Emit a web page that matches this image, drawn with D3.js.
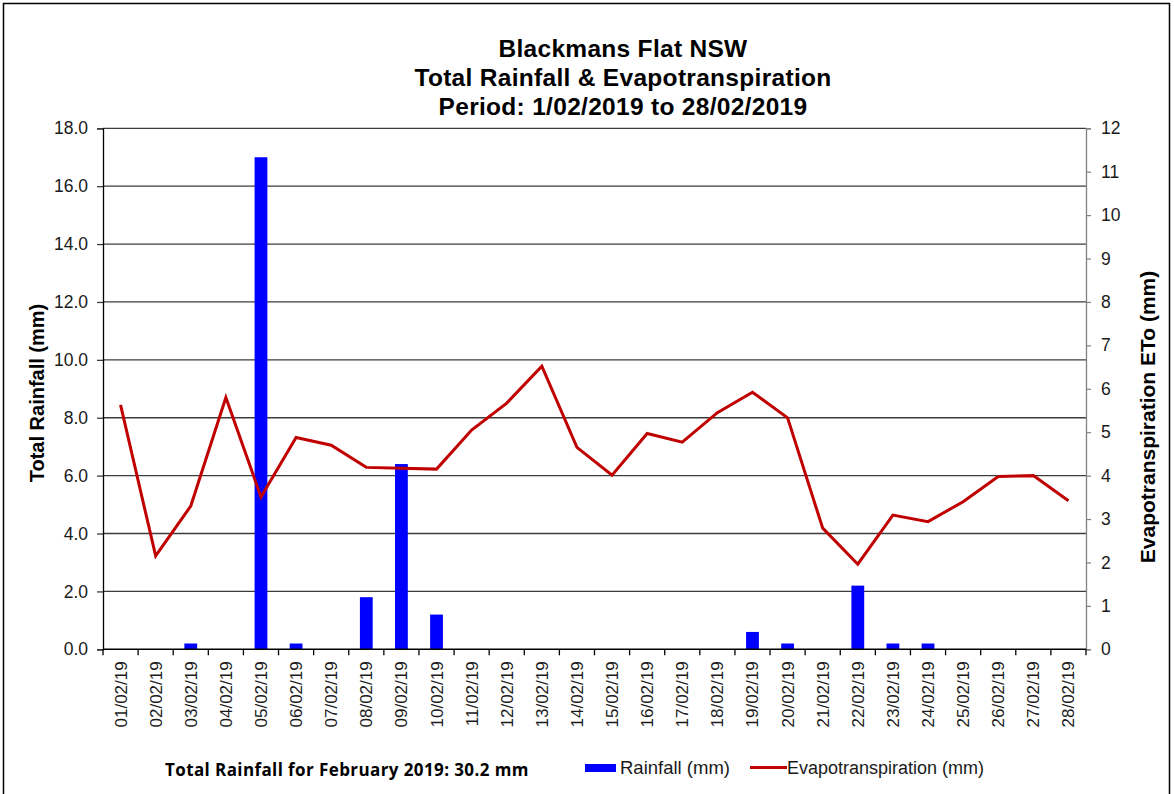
<!DOCTYPE html>
<html>
<head>
<meta charset="utf-8">
<script src="https://cdn.jsdelivr.net/npm/d3@7"></script>
<style>
body { margin: 0; background: #fff; }
svg { display: block; }
text { font-family: "Liberation Sans", Arial, sans-serif; }
</style>
</head>
<body>
<svg id="chart" width="1174" height="794"></svg>
<script>
const dates = ["01/02/19","02/02/19","03/02/19","04/02/19","05/02/19","06/02/19","07/02/19","08/02/19","09/02/19","10/02/19","11/02/19","12/02/19","13/02/19","14/02/19","15/02/19","16/02/19","17/02/19","18/02/19","19/02/19","20/02/19","21/02/19","22/02/19","23/02/19","24/02/19","25/02/19","26/02/19","27/02/19","28/02/19"];
const rainfall = [0,0,0.2,0,17.0,0.2,0,1.8,6.4,1.2,0,0,0,0,0,0,0,0,0.6,0.2,0,2.2,0.2,0.2,0,0,0,0];
const evapo = [5.63,2.15,3.3,5.8,3.51,4.88,4.7,4.19,4.17,4.15,5.05,5.67,6.52,4.65,4.01,4.97,4.77,5.45,5.92,5.33,2.79,1.96,3.09,2.94,3.4,3.98,4.0,3.42];
const leftTicks = [0,2,4,6,8,10,12,14,16,18];
const rightTicks = [0,1,2,3,4,5,6,7,8,9,10,11,12];
const titleLines = ["Blackmans Flat NSW","Total Rainfall & Evapotranspiration","Period: 1/02/2019 to 28/02/2019"];
const footer = "Total Rainfall for February 2019: 30.2 mm";

const svg = d3.select("#chart");
const L = 103, R = 1086, T = 128.3, B = 649.3;

// frame
svg.append("path").attr("d", `M3.5,800 V3.5 H1169.5 V800`).attr("fill","none").attr("stroke","#000").attr("stroke-width",1.5);

const x = d3.scaleBand().domain(dates).range([L, R]).padding(0);
const yL = d3.scaleLinear().domain([0,18]).range([B, T]);
const yR = d3.scaleLinear().domain([0,12]).range([B, T]);

// gridlines
svg.append("g").selectAll("line").data(leftTicks.filter(d => d > 0)).join("line")
  .attr("x1", L).attr("x2", R).attr("y1", d => yL(d)).attr("y2", d => yL(d))
  .attr("stroke", "#3c3c3c").attr("stroke-width", 1.3);

// bars
const bw = 12.8;
svg.append("g").selectAll("rect").data(dates.map((d,i)=>({d, v: rainfall[i]})).filter(o => o.v > 0)).join("rect")
  .attr("x", o => x(o.d) + x.bandwidth()/2 - bw/2)
  .attr("width", bw)
  .attr("y", o => yL(o.v))
  .attr("height", o => B - yL(o.v))
  .attr("fill", "#0000ff");

// line
const line = d3.line().x((v,i) => x(dates[i]) + x.bandwidth()/2).y(v => yR(v));
svg.append("path").datum(evapo).attr("d", line).attr("fill","none")
  .attr("stroke","#c00000").attr("stroke-width",3).attr("stroke-linejoin","miter");

// left axis
const gL = svg.append("g").attr("transform", `translate(${L},0)`)
  .call(d3.axisLeft(yL).tickValues(leftTicks).tickFormat(d3.format(".1f")).tickSize(6).tickPadding(9));
gL.select(".domain").attr("stroke","#000").attr("stroke-width",1.3);
gL.selectAll(".tick line").attr("stroke","#3c3c3c").attr("stroke-width",1.3);
gL.selectAll("text").attr("font-size", 17.5).attr("fill","#1a1a1a").style("font-family","Liberation Sans, Arial, sans-serif");

// right axis
const gR = svg.append("g").attr("transform", `translate(${R},0)`)
  .call(d3.axisRight(yR).tickValues(rightTicks).tickFormat(d3.format("d")).tickSize(5).tickPadding(10));
gR.select(".domain").attr("stroke","#808080").attr("stroke-width",1.3);
gR.selectAll(".tick line").attr("stroke","#808080").attr("stroke-width",1.2);
gR.selectAll("text").attr("font-size", 17.5).attr("fill","#1a1a1a").style("font-family","Liberation Sans, Arial, sans-serif");

// bottom axis: ticks at category boundaries
const gB = svg.append("g").attr("transform", `translate(0,${B})`);
gB.append("line").attr("x1", L).attr("x2", R).attr("stroke","#000").attr("stroke-width",1.5);
const bounds = dates.map(d => x(d)).concat([R]);
gB.selectAll("line.tk").data(bounds).join("line").attr("class","tk")
  .attr("x1", d => d).attr("x2", d => d).attr("y1", 0).attr("y2", 6)
  .attr("stroke","#000").attr("stroke-width",1.3);
gB.selectAll("text").data(dates).join("text")
  .attr("transform", d => `translate(${x(d) + x.bandwidth()/2 + 6},${12}) rotate(-90)`)
  .attr("text-anchor","end").attr("font-size", 17).attr("fill","#1a1a1a")
  .text(d => d);

// title
svg.append("g").selectAll("text").data(titleLines).join("text")
  .attr("x", 623).attr("y", (d,i) => 57 + i*29)
  .attr("text-anchor","middle").attr("font-size", 24.5).attr("font-weight","bold")
  .attr("letter-spacing", 0.3).attr("fill","#000")
  .text(d => d);

// axis titles
svg.append("text").attr("transform", `translate(44,393) rotate(-90)`)
  .attr("text-anchor","middle").attr("font-size",20).attr("font-weight","bold").text("Total Rainfall (mm)");
svg.append("text").attr("transform", `translate(1155,417) rotate(-90)`)
  .attr("text-anchor","middle").attr("font-size",21).attr("font-weight","bold").text("Evapotranspiration ETo (mm)");

// footer
svg.append("text").attr("x", 165).attr("y", 776).attr("font-size", 17).attr("font-weight","bold")
  .attr("letter-spacing", 0.4)
  .style("font-family","'Open Sans', Lato, sans-serif").text(footer);

// legend
svg.append("rect").attr("x", 585).attr("y", 764).attr("width", 31).attr("height", 8).attr("fill","#0000ff");
svg.append("text").attr("x", 620).attr("y", 774).attr("font-size", 18.5).attr("fill","#1a1a1a").text("Rainfall (mm)");
svg.append("line").attr("x1", 750).attr("x2", 787).attr("y1", 767.5).attr("y2", 767.5).attr("stroke","#c00000").attr("stroke-width",3);
svg.append("text").attr("x", 787).attr("y", 774).attr("font-size", 18).attr("fill","#1a1a1a").text("Evapotranspiration (mm)");
</script>
</body>
</html>
